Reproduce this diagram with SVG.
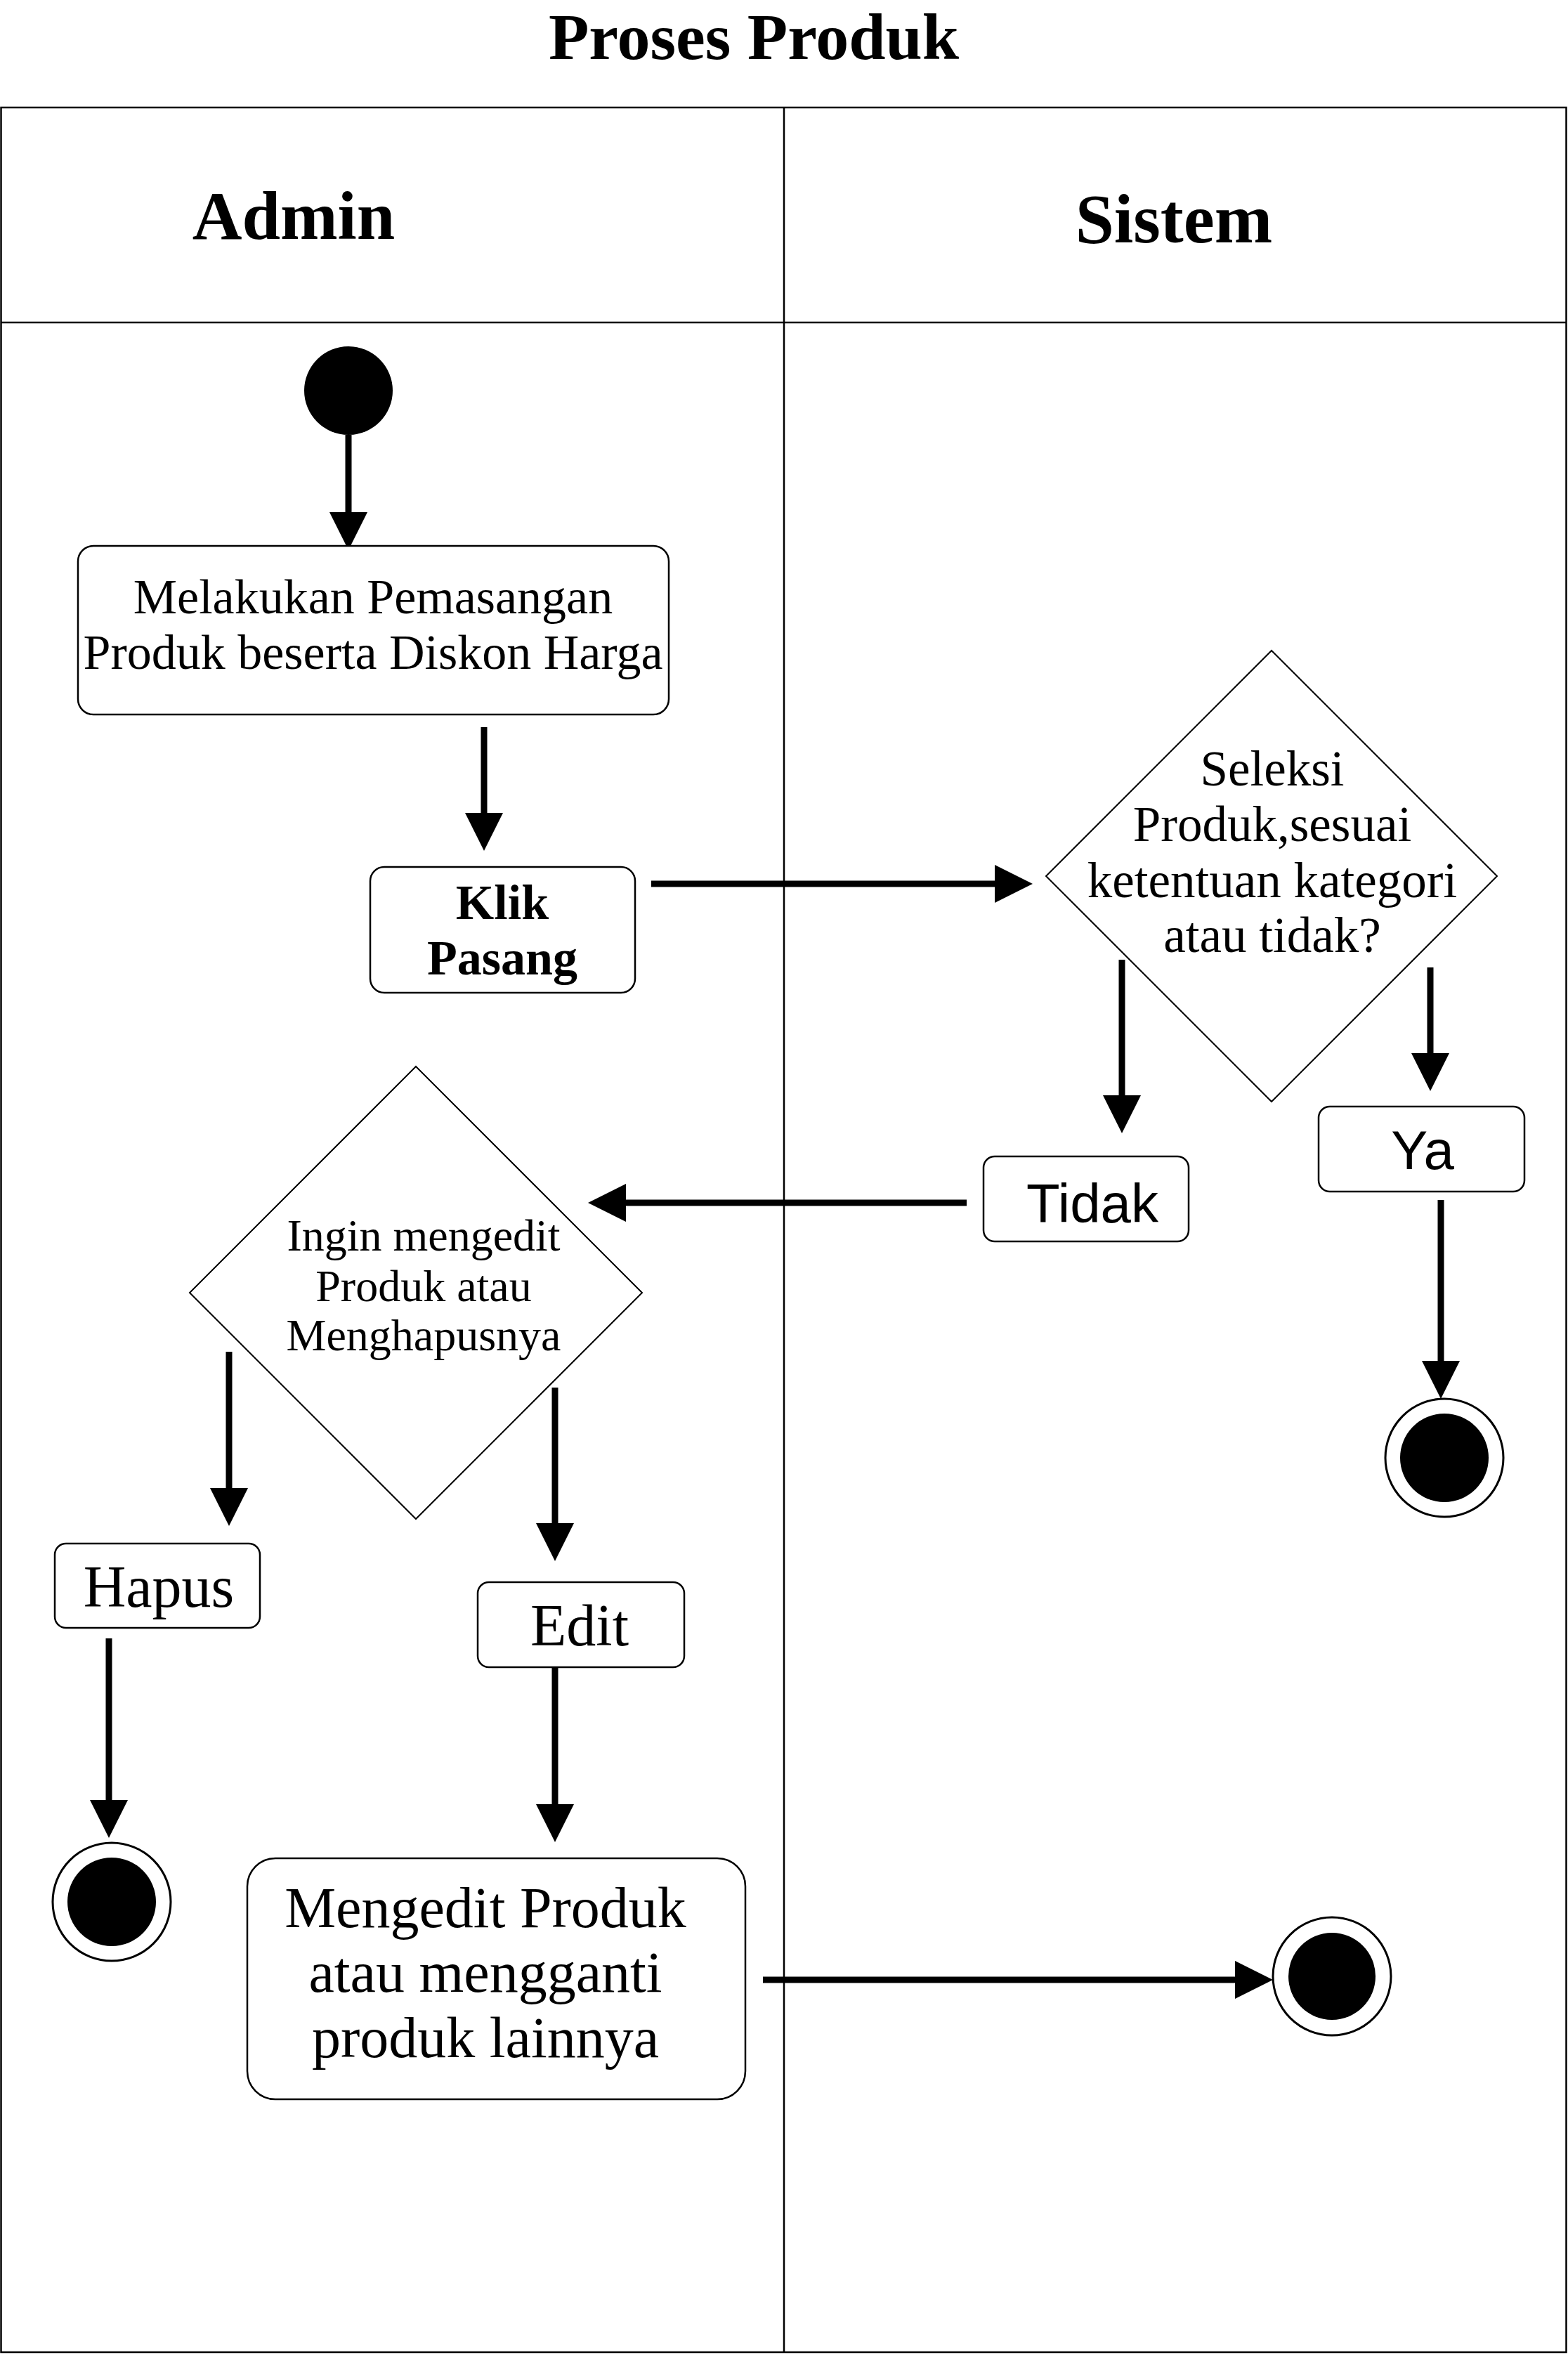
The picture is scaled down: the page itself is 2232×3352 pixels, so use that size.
<svg xmlns="http://www.w3.org/2000/svg" width="2232" height="3352" viewBox="0 0 2232 3352">
<style>
.bg{fill:#ffffff}
.lane{fill:none;stroke:#000;stroke-width:2.5}
.box{fill:#fff;stroke:#000;stroke-width:2.5}
.dia{fill:#fff;stroke:#000;stroke-width:2}
.con{fill:none;stroke:#000;stroke-width:9}
.serif{font-family:"Liberation Serif","Times New Roman",serif;fill:#000;text-anchor:middle}
.sans{font-family:"Liberation Sans",Arial,sans-serif;fill:#000;text-anchor:middle}
.b{font-weight:bold}
</style>
<defs>
<marker id="ah" markerUnits="userSpaceOnUse" markerWidth="54" markerHeight="54" refX="0" refY="27" orient="auto" viewBox="0 0 54 54">
<path d="M0,0 L54,27 L0,54 z" fill="#000"/>
</marker>
</defs>
<rect class="bg" x="0" y="0" width="2232" height="3352"/>

<g id="title">
<text class="serif b" x="1073" y="84" font-size="94">Proses Produk</text>
</g>

<g id="swimlanes">
<rect class="lane" x="1.5" y="153" width="2228" height="3195"/>
<line class="lane" x1="1" y1="459" x2="2230" y2="459"/>
<line class="lane" x1="1116" y1="153" x2="1116" y2="3348"/>
<text class="serif b" x="418" y="340" font-size="98">Admin</text>
<text class="serif b" x="1671" y="345" font-size="99">Sistem</text>
</g>

<g id="connectors">
<line class="con" x1="496" y1="619" x2="496" y2="729" marker-end="url(#ah)"/>
<line class="con" x1="689" y1="1035" x2="689" y2="1157" marker-end="url(#ah)"/>
<line class="con" x1="927" y1="1258" x2="1416" y2="1258" marker-end="url(#ah)"/>
<line class="con" x1="1597" y1="1366" x2="1597" y2="1559" marker-end="url(#ah)"/>
<line class="con" x1="2036" y1="1377" x2="2036" y2="1499" marker-end="url(#ah)"/>
<line class="con" x1="1376" y1="1712" x2="891" y2="1712" marker-end="url(#ah)"/>
<line class="con" x1="2051" y1="1708" x2="2051" y2="1937" marker-end="url(#ah)"/>
<line class="con" x1="326" y1="1924" x2="326" y2="2118" marker-end="url(#ah)"/>
<line class="con" x1="790" y1="1975" x2="790" y2="2168" marker-end="url(#ah)"/>
<line class="con" x1="155" y1="2332" x2="155" y2="2562" marker-end="url(#ah)"/>
<line class="con" x1="790" y1="2374" x2="790" y2="2568" marker-end="url(#ah)"/>
<line class="con" x1="1086" y1="2818" x2="1758" y2="2818" marker-end="url(#ah)"/>
</g>

<g id="start">
<circle cx="496" cy="556" r="63" fill="#000"/>
</g>

<g id="pemasangan">
<rect class="box" x="111" y="777" width="841" height="240" rx="22"/>
<text class="serif" x="531" y="873" font-size="70">Melakukan Pemasangan</text>
<text class="serif" x="531" y="952" font-size="70">Produk beserta Diskon Harga</text>
</g>

<g id="klik-pasang">
<rect class="box" x="527" y="1234" width="377" height="179" rx="20"/>
<text class="serif b" x="715" y="1308" font-size="70">Klik</text>
<text class="serif b" x="715" y="1387" font-size="70">Pasang</text>
</g>

<g id="seleksi">
<polygon class="dia" points="1810,926 2131,1247 1810,1568 1489,1247"/>
<text class="serif" x="1811" y="1118" font-size="71">Seleksi</text>
<text class="serif" x="1811" y="1197" font-size="71">Produk,sesuai</text>
<text class="serif" x="1811" y="1277" font-size="71">ketentuan kategori</text>
<text class="serif" x="1811" y="1355" font-size="71">atau tidak?</text>
</g>

<g id="tidak">
<rect class="box" x="1400" y="1646" width="292" height="121" rx="16"/>
<text class="sans" x="1555" y="1740" font-size="78">Tidak</text>
</g>

<g id="ya">
<rect class="box" x="1877" y="1575" width="293" height="121" rx="16"/>
<text class="sans" x="2025" y="1664" font-size="78">Ya</text>
</g>

<g id="end-ya">
<circle cx="2056" cy="2075" r="84" fill="#fff" stroke="#000" stroke-width="3"/>
<circle cx="2056" cy="2075" r="63" fill="#000"/>
</g>

<g id="ingin-mengedit">
<polygon class="dia" points="592,1518 914,1840 592,2162 270,1840"/>
<text class="serif" x="603" y="1780" font-size="64">Ingin mengedit</text>
<text class="serif" x="603" y="1852" font-size="64">Produk atau</text>
<text class="serif" x="603" y="1922" font-size="64">Menghapusnya</text>
</g>

<g id="hapus">
<rect class="box" x="78" y="2197" width="292" height="120" rx="16"/>
<text class="serif" x="226" y="2287" font-size="84">Hapus</text>
</g>

<g id="edit">
<rect class="box" x="680" y="2252" width="294" height="121" rx="16"/>
<text class="serif" x="825" y="2342" font-size="84">Edit</text>
</g>

<g id="end-hapus">
<circle cx="159" cy="2707" r="84" fill="#fff" stroke="#000" stroke-width="3"/>
<circle cx="159" cy="2707" r="63" fill="#000"/>
</g>

<g id="mengedit-produk">
<rect class="box" x="352" y="2645" width="709" height="343" rx="40"/>
<text class="serif" x="691" y="2743" font-size="82">Mengedit Produk</text>
<text class="serif" x="691" y="2835" font-size="82">atau mengganti</text>
<text class="serif" x="691" y="2928" font-size="82">produk lainnya</text>
</g>

<g id="end-edit">
<circle cx="1896" cy="2813" r="84" fill="#fff" stroke="#000" stroke-width="3"/>
<circle cx="1896" cy="2813" r="62" fill="#000"/>
</g>
</svg>
